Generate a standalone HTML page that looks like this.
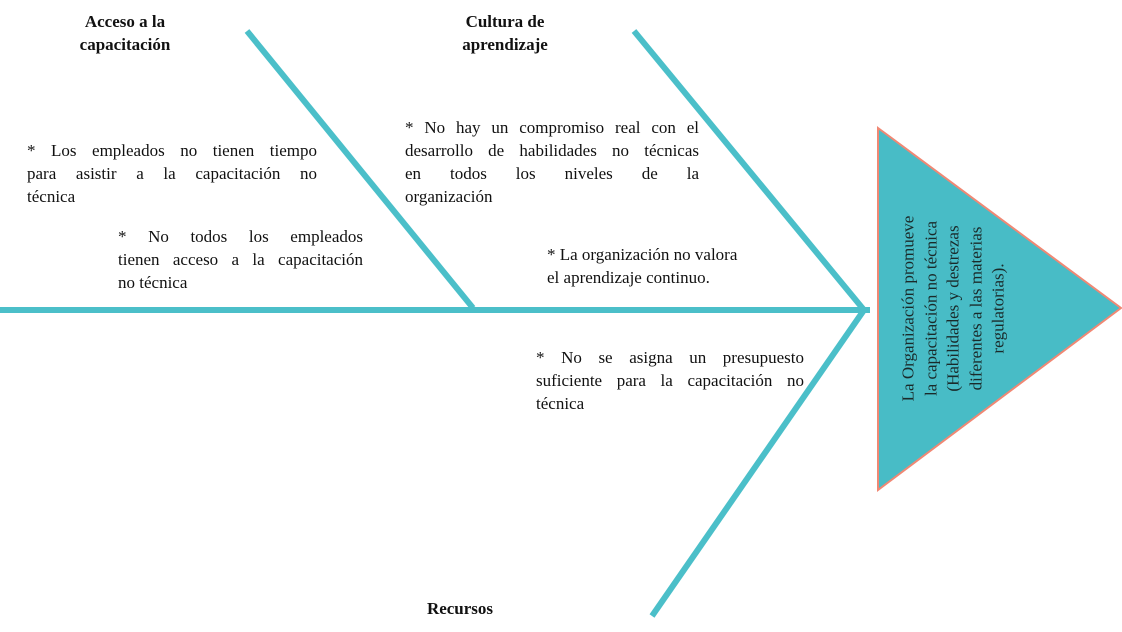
<!DOCTYPE html>
<html><head><meta charset="utf-8"><style>
body{margin:0;width:1122px;height:632px;background:#fff;position:relative;overflow:hidden;font-family:"Liberation Serif",serif;color:#111}
.t{position:absolute;font-size:17px;line-height:23px}
.t span{display:block;text-align:justify;text-align-last:justify;white-space:nowrap}
.t span.l{text-align-last:left}
.h{position:absolute;font-size:17px;line-height:23px;font-weight:bold;text-align:center}
svg{position:absolute;left:0;top:0}
</style></head><body>
<svg width="1122" height="632">
<g stroke="#4bbfc9" stroke-width="6" fill="none">
<line x1="0" y1="310" x2="870" y2="310"/>
<line x1="247" y1="31" x2="473" y2="308"/>
<line x1="634" y1="31" x2="864" y2="310"/>
<line x1="864" y1="310" x2="652" y2="616"/>
</g>
<polygon points="878,128 1121,308 878,490" fill="#48bcc6" stroke="#f08874" stroke-width="2"/>
</svg>
<div class="h" style="left:45px;top:10px;width:160px">Acceso a la<br>capacitación</div>
<div class="h" style="left:425px;top:10px;width:160px">Cultura de<br>aprendizaje</div>
<div class="h" style="left:380px;top:597px;width:160px">Recursos</div>
<div class="t" style="left:27px;top:139px;width:290px"><span>* Los empleados no tienen tiempo</span><span>para asistir a la capacitación no</span><span class="l">técnica</span></div>
<div class="t" style="left:118px;top:225px;width:245px"><span>* No todos los empleados</span><span>tienen acceso a la capacitación</span><span class="l">no técnica</span></div>
<div class="t" style="left:405px;top:116px;width:294px"><span>* No hay un compromiso real con el</span><span>desarrollo de habilidades no técnicas</span><span>en todos los niveles de la</span><span class="l">organización</span></div>
<div class="t" style="left:547px;top:243px;width:260px"><span class="l">* La organización no valora</span><span class="l">el aprendizaje continuo.</span></div>
<div class="t" style="left:536px;top:346px;width:268px"><span>* No se asigna un presupuesto</span><span>suficiente para la capacitación no</span><span class="l">técnica</span></div>
<div style="position:absolute;left:830px;top:251px;width:250px;height:115px;transform:rotate(-90deg);font-size:17px;line-height:22.5px;text-align:center;color:#1a2a2a">La Organización promueve<br>la capacitación no técnica<br>(Habilidades y destrezas<br>diferentes a las materias<br>regulatorias).</div>
</body></html>
